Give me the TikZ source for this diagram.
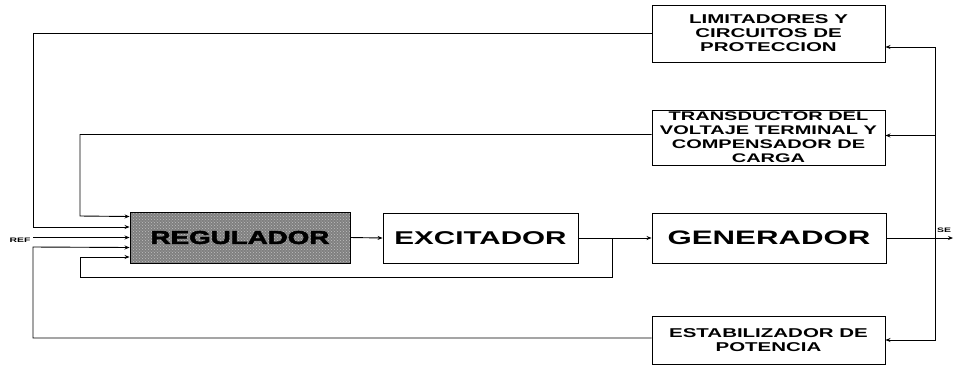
\documentclass[tikz,border=0pt]{standalone}
\usepackage{fontspec}
\setmainfont[FakeStretch=1.6]{Liberation Sans}
\newfontfamily\heavyf[FakeStretch=1.5,FakeBold=3]{Liberation Sans Bold}
\usetikzlibrary{arrows.meta,patterns}
\begin{document}
\begin{tikzpicture}[x=1pt,y=-1pt,
  blk/.style={draw=black,line width=0.9pt,inner sep=0pt,align=center,font=\bfseries},
  small/.style={blk,font=\fontsize{12.8}{14}\selectfont\bfseries},
  wire/.style={line width=0.9pt},
  arr/.style={wire,-{Stealth[length=5pt,width=4pt]}},
  lbl/.style={font=\fontsize{6.5}{7}\selectfont\bfseries,inner sep=0pt}]
\useasboundingbox (0,0) rectangle (955,365);
% blocks
\node[small,minimum width=233pt,minimum height=57pt] (lim) at (768.5,33.5) {LIMITADORES Y\\CIRCUITOS DE\\PROTECCION};
\node[small,minimum width=233pt,minimum height=55pt,font=\fontsize{12.5}{14}\selectfont\bfseries] (tra) at (768.5,137.5) {TRANSDUCTOR DEL\\VOLTAJE TERMINAL Y\\COMPENSADOR DE\\CARGA};
\node[blk,preaction={fill=black!50},pattern=crosshatch dots,pattern color=black!25,minimum width=220pt,minimum height=51pt,font=\fontsize{18.5}{20}\selectfont\heavyf] (reg) at (240,237.5) {REGULADOR};
\node[blk,minimum width=195pt,minimum height=50pt,font=\fontsize{18.5}{20}\selectfont\bfseries] (exc) at (480.5,238) {EXCITADOR};
\node[blk,minimum width=234pt,minimum height=50pt,font=\fontsize{19.5}{21}\selectfont\bfseries] (gen) at (769,238) {GENERADOR};
\node[small,minimum width=233pt,minimum height=48pt] (est) at (768.5,340) {ESTABILIZADOR DE\\POTENCIA};
% labels
\node[lbl] (ref) at (20,240) {REF};
\node[lbl,anchor=west] (se) at (937,230) {SE};
% coordinates
\coordinate (out) at (953,238);
\coordinate (bus) at (935,238);
\coordinate (jn) at (612,238);
% forward path
\draw[arr] (reg.east) -- (exc.west);
\draw[arr] (exc.east) -- (gen.west);
\draw[arr] (gen.east) -- (out);
% feedback bus
\draw[arr] (bus) |- ([yshift=-13.5pt]lim.east);
\draw[arr] (bus) |- ([yshift=2pt]tra.east);
\draw[arr] (bus) |- (est.east);
% to regulator
\draw[arr] (lim.west) -| (33,227) -- ([yshift=10.5pt]reg.west);
\draw[arr] ([yshift=3pt]tra.west) -| (80,216) -- ([yshift=21pt]reg.west);
\draw[arr] (33,237.5) -- (reg.west);
\draw[arr] ([yshift=2pt]est.west) -| (33,247) -- ([yshift=-10pt]reg.west);
\draw[arr] (jn) |- (80,277) -- (80,257) -- ([yshift=-19.5pt]reg.west);
\end{tikzpicture}
\end{document}
